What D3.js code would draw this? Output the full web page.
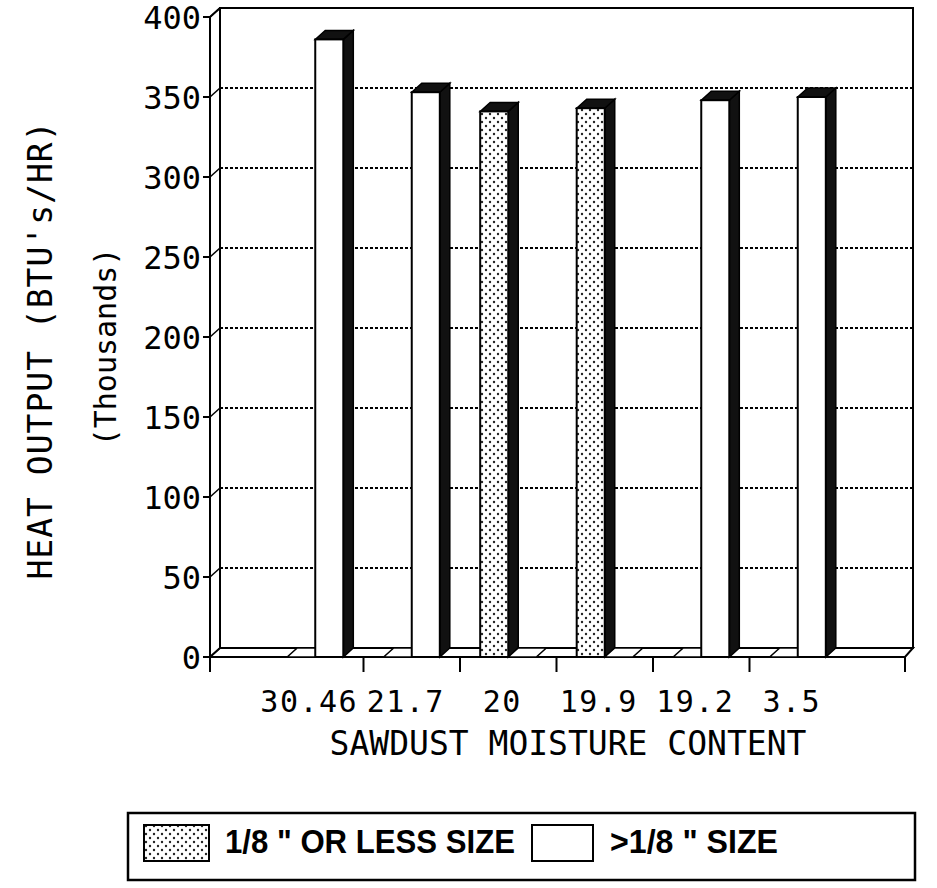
<!DOCTYPE html>
<html>
<head>
<meta charset="utf-8">
<script src="https://cdn.jsdelivr.net/npm/d3@7"></script>
<style>
  body { margin: 0; background: #fff; }
  #chart { width: 937px; height: 888px; }
</style>
</head>
<body>
<div id="chart"></div>
<script>
// data
const categories = ["30.46", "21.7", "20", "19.9", "19.2", "3.5"];
const seriesKeys = ["fine", "coarse"];
const seriesLabels = ['1/8 " OR LESS SIZE', '>1/8 " SIZE'];
const fineValues = [0, 0, 341, 343, 0, 0];
const coarseValues = [386, 353, 0, 0, 348, 350];
const yTicks = [0, 50, 100, 150, 200, 250, 300, 350, 400];

function make3dBar(parentSelector) {
  const container = document.querySelector(parentSelector);
  const width = container.clientWidth;
  const height = container.clientHeight;

  d3.select(parentSelector).selectAll('*').remove();
  const svg = d3.select(parentSelector)
    .append('svg')
    .attr('width', width)
    .attr('height', height);

  const mono = '"DejaVu Sans Mono", monospace';
  const DX = 10, DY = 9; // 3d depth offset

  // dotted fill for the fine sawdust
  const pat = svg.append('defs').append('pattern')
    .attr('id', 'dots')
    .attr('patternUnits', 'userSpaceOnUse')
    .attr('width', 8).attr('height', 8);
  pat.append('rect').attr('width', 8).attr('height', 8).attr('fill', '#fff');
  pat.append('circle').attr('cx', 2).attr('cy', 2).attr('r', 1.2).attr('fill', '#222');
  pat.append('circle').attr('cx', 6).attr('cy', 6).attr('r', 1.2).attr('fill', '#222');

  // scales
  const y = d3.scaleLinear().domain([0, 400]).range([657, 17]);
  const x = d3.scaleBand().domain(categories).range([267, 846]);
  const xInner = d3.scaleBand().domain(seriesKeys)
    .range([0, x.bandwidth()])
    .paddingOuter(0.72);

  const left = 210, right = 905;

  // back wall
  svg.append('rect')
    .attr('x', left + DX).attr('y', y(400) - DY)
    .attr('width', right + 8 - (left + DX))
    .attr('height', y(0) - y(400))
    .attr('fill', '#fff').attr('stroke', '#000').attr('stroke-width', 2);

  // floor
  svg.append('path')
    .attr('d', `M${left},${y(0)} L${right},${y(0)} L${right + 8},${y(0) - DY} L${left + DX},${y(0) - DY} Z`)
    .attr('fill', '#fff').attr('stroke', '#000').attr('stroke-width', 2);

  // front y axis + left wall slant at top
  svg.append('line')
    .attr('x1', left).attr('x2', left).attr('y1', y(0)).attr('y2', y(400))
    .attr('stroke', '#000').attr('stroke-width', 2);
  svg.append('line')
    .attr('x1', left).attr('x2', left + DX).attr('y1', y(400)).attr('y2', y(400) - DY)
    .attr('stroke', '#000').attr('stroke-width', 2);

  // gridlines, ticks and labels
  yTicks.forEach(v => {
    const g = svg.append('g');
    if (v > 0 && v < 400) {
      g.append('line')
        .attr('x1', left + DX).attr('x2', right + 8)
        .attr('y1', y(v) - DY).attr('y2', y(v) - DY)
        .attr('stroke', '#000').attr('stroke-width', 1.8)
        .attr('stroke-dasharray', '3,2');
    }
    g.append('line')
      .attr('x1', left).attr('x2', left + DX).attr('y1', y(v)).attr('y2', y(v) - DY)
      .attr('stroke', '#000').attr('stroke-width', 1.5);
    g.append('line')
      .attr('x1', left - 7).attr('x2', left).attr('y1', y(v)).attr('y2', y(v))
      .attr('stroke', '#000').attr('stroke-width', 2);
    g.append('text')
      .attr('x', 201).attr('y', y(v) + 1)
      .attr('text-anchor', 'end')
      .attr('dominant-baseline', 'central')
      .attr('font-family', mono).attr('font-size', 32)
      .text(v);
  });

  // bars (front face, side, top)
  const rows = [];
  categories.forEach((c, i) => {
    rows.push({ cat: c, key: 'fine', value: fineValues[i] });
    rows.push({ cat: c, key: 'coarse', value: coarseValues[i] });
  });

  const bw = xInner.bandwidth();
  rows.forEach(d => {
    const x0 = x(d.cat) + xInner(d.key);
    const yt = y(d.value);
    const yb = y(0);
    const g = svg.append('g');
    if (d.value <= 0) {
      // flat slab on floor
      g.append('path')
        .attr('d', `M${x0},${yb} L${x0 + bw},${yb} L${x0 + bw + DX},${yb - DY} L${x0 + DX},${yb - DY} Z`)
        .attr('fill', '#fff').attr('stroke', '#000').attr('stroke-width', 1.5);
      return;
    }
    // side
    g.append('path')
      .attr('d', `M${x0 + bw},${yb} L${x0 + bw},${yt} L${x0 + bw + DX},${yt - DY} L${x0 + bw + DX},${yb - DY} Z`)
      .attr('fill', '#111').attr('stroke', '#000').attr('stroke-width', 1.5);
    // top
    g.append('path')
      .attr('d', `M${x0},${yt} L${x0 + bw},${yt} L${x0 + bw + DX},${yt - DY} L${x0 + DX},${yt - DY} Z`)
      .attr('fill', '#111').attr('stroke', '#000').attr('stroke-width', 1.5);
    // front
    g.append('rect')
      .attr('x', x0).attr('y', yt)
      .attr('width', bw).attr('height', yb - yt)
      .attr('fill', d.key === 'fine' ? 'url(#dots)' : '#fff')
      .attr('stroke', '#000').attr('stroke-width', 2);
  });

  // x ticks: axis ends + category boundaries inside
  const xTickPos = [left].concat(categories.slice(1).map(c => x(c)), [right]);
  svg.selectAll('.xtick')
    .data(xTickPos)
    .enter()
    .append('line')
    .attr('x1', d => d).attr('x2', d => d)
    .attr('y1', y(0)).attr('y2', y(0) + 15)
    .attr('stroke', '#000').attr('stroke-width', 2);

  svg.selectAll('.xlab')
    .data(categories)
    .enter()
    .append('text')
    .attr('x', d => x(d) + x.bandwidth() / 2 - 6)
    .attr('y', 712)
    .attr('text-anchor', 'middle')
    .attr('font-family', mono).attr('font-size', 30)
    .attr('letter-spacing', 1.5)
    .text(d => d);

  // axis titles
  svg.append('text')
    .attr('x', 568).attr('y', 755)
    .attr('text-anchor', 'middle')
    .attr('font-family', mono).attr('font-size', 33)
    .text('SAWDUST MOISTURE CONTENT');

  svg.append('text')
    .attr('transform', 'translate(40,350) rotate(-90)')
    .attr('text-anchor', 'middle')
    .attr('dominant-baseline', 'central')
    .attr('font-family', mono).attr('font-size', 33)
    .attr('letter-spacing', 1)
    .text("HEAT OUTPUT (BTU's/HR)");

  svg.append('text')
    .attr('transform', 'translate(105,347) rotate(-90)')
    .attr('text-anchor', 'middle')
    .attr('dominant-baseline', 'central')
    .attr('font-family', mono).attr('font-size', 30)
    .text('(Thousands)');

  // legend box
  svg.append('rect')
    .attr('x', 128).attr('y', 813).attr('width', 787).attr('height', 67)
    .attr('fill', '#fff').attr('stroke', '#000').attr('stroke-width', 2.5);

  const legendItems = [
    { fill: 'url(#dots)', sx: 144, sw: 65, tx: 225, tw: 290, label: seriesLabels[0] },
    { fill: '#fff', sx: 532, sw: 61, tx: 610, tw: 168, label: seriesLabels[1] }
  ];
  legendItems.forEach(it => {
    svg.append('rect')
      .attr('x', it.sx).attr('y', 825).attr('width', it.sw).attr('height', 36)
      .attr('fill', it.fill).attr('stroke', '#000').attr('stroke-width', 2);
    svg.append('text')
      .attr('x', it.tx).attr('y', 853)
      .attr('font-family', '"Liberation Sans", Arial, sans-serif')
      .attr('font-weight', 'bold').attr('font-size', 34)
      .attr('textLength', it.tw).attr('lengthAdjust', 'spacingAndGlyphs')
      .text(it.label);
  });
}

make3dBar('#chart');
</script>
</body>
</html>
